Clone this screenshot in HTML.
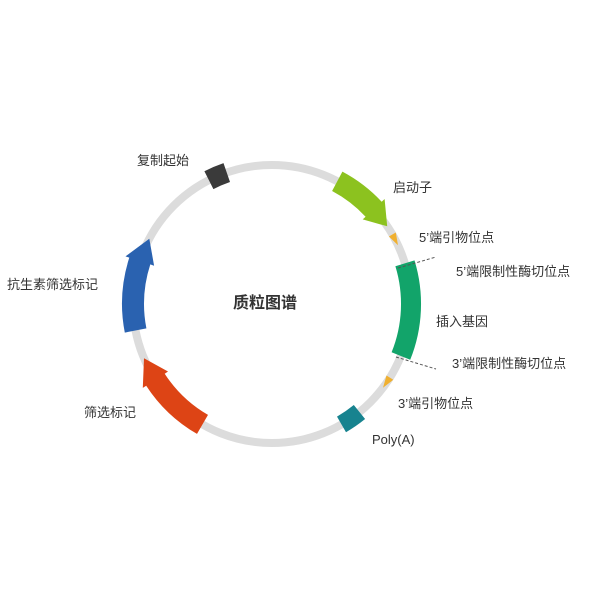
<!DOCTYPE html>
<html><head><meta charset="utf-8"><style>
body{margin:0;background:#fff}
svg text{font-family:"Liberation Sans","Noto Sans CJK SC",sans-serif;fill:#333;font-size:13px}
</style></head><body>
<svg id="s" width="600" height="600" xmlns="http://www.w3.org/2000/svg">
<circle cx="272" cy="304" r="139" fill="none" stroke="#dcdcdc" stroke-width="8"/>
<g id="g"></g>
<line x1="398" y1="268" x2="436" y2="257" stroke="#555" stroke-dasharray="3,2" stroke-width="1"/>
<line x1="396" y1="357" x2="436" y2="369" stroke="#555" stroke-dasharray="3,2" stroke-width="1"/>
<text x="137" y="165">复制起始</text>
<text x="393" y="192">启动子</text>
<text x="419" y="242">5’端引物位点</text>
<text x="456" y="276">5’端限制性酶切位点</text>
<text x="436" y="326">插入基因</text>
<text x="452" y="368">3’端限制性酶切位点</text>
<text x="398" y="408">3’端引物位点</text>
<text x="372" y="444">Poly(A)</text>
<text x="84" y="417">筛选标记</text>
<text x="7" y="289">抗生素筛选标记</text>
<text x="233" y="308" style="font-size:16px;font-weight:bold">质粒图谱</text>
</svg>
<script>
var cx=272,cy=304,R=139,g=document.getElementById('g'),out='';
function p(r,a){a=a*Math.PI/180;return (cx+r*Math.sin(a)).toFixed(1)+','+(cy-r*Math.cos(a)).toFixed(1);}
function band(a1,a2,w,c){var o=R+w/2,i=R-w/2;
out+='<path fill="'+c+'" d="M'+p(o,a1)+' A'+o+','+o+' 0 0 1 '+p(o,a2)+' L'+p(i,a2)+' A'+i+','+i+' 0 0 0 '+p(i,a1)+'Z"/>';}
function arrow(a1,a2,h,w,c){var o=R+w/2,i=R-w/2,b=a2-h;
out+='<path fill="'+c+'" d="M'+p(o,a1)+' A'+o+','+o+' 0 0 1 '+p(o,b)+' L'+p(o+4,b)+' L'+p(R,a2)+' L'+p(i-4,b)+' L'+p(i,b)+' A'+i+','+i+' 0 0 0 '+p(i,a1)+'Z"/>';}
band(-27,-19,20,'#3a3a3a');
arrow(28,56,9,22,'#8cc21f');
band(73,112,20,'#12a46a');
band(141,150,18,'#17838f');
arrow(210,247,10,22,'#dd4415');
arrow(259,298,10,22,'#2a62b0');
out+='<path fill="#f0b030" d="M'+p(R-4,60)+' L'+p(R+4,60)+' L'+p(R,65)+'Z"/>';
out+='<path fill="#f0b030" d="M'+p(R-4,122)+' L'+p(R+4,122)+' L'+p(R,127)+'Z"/>';
g.innerHTML=out;
</script>
</body></html>
